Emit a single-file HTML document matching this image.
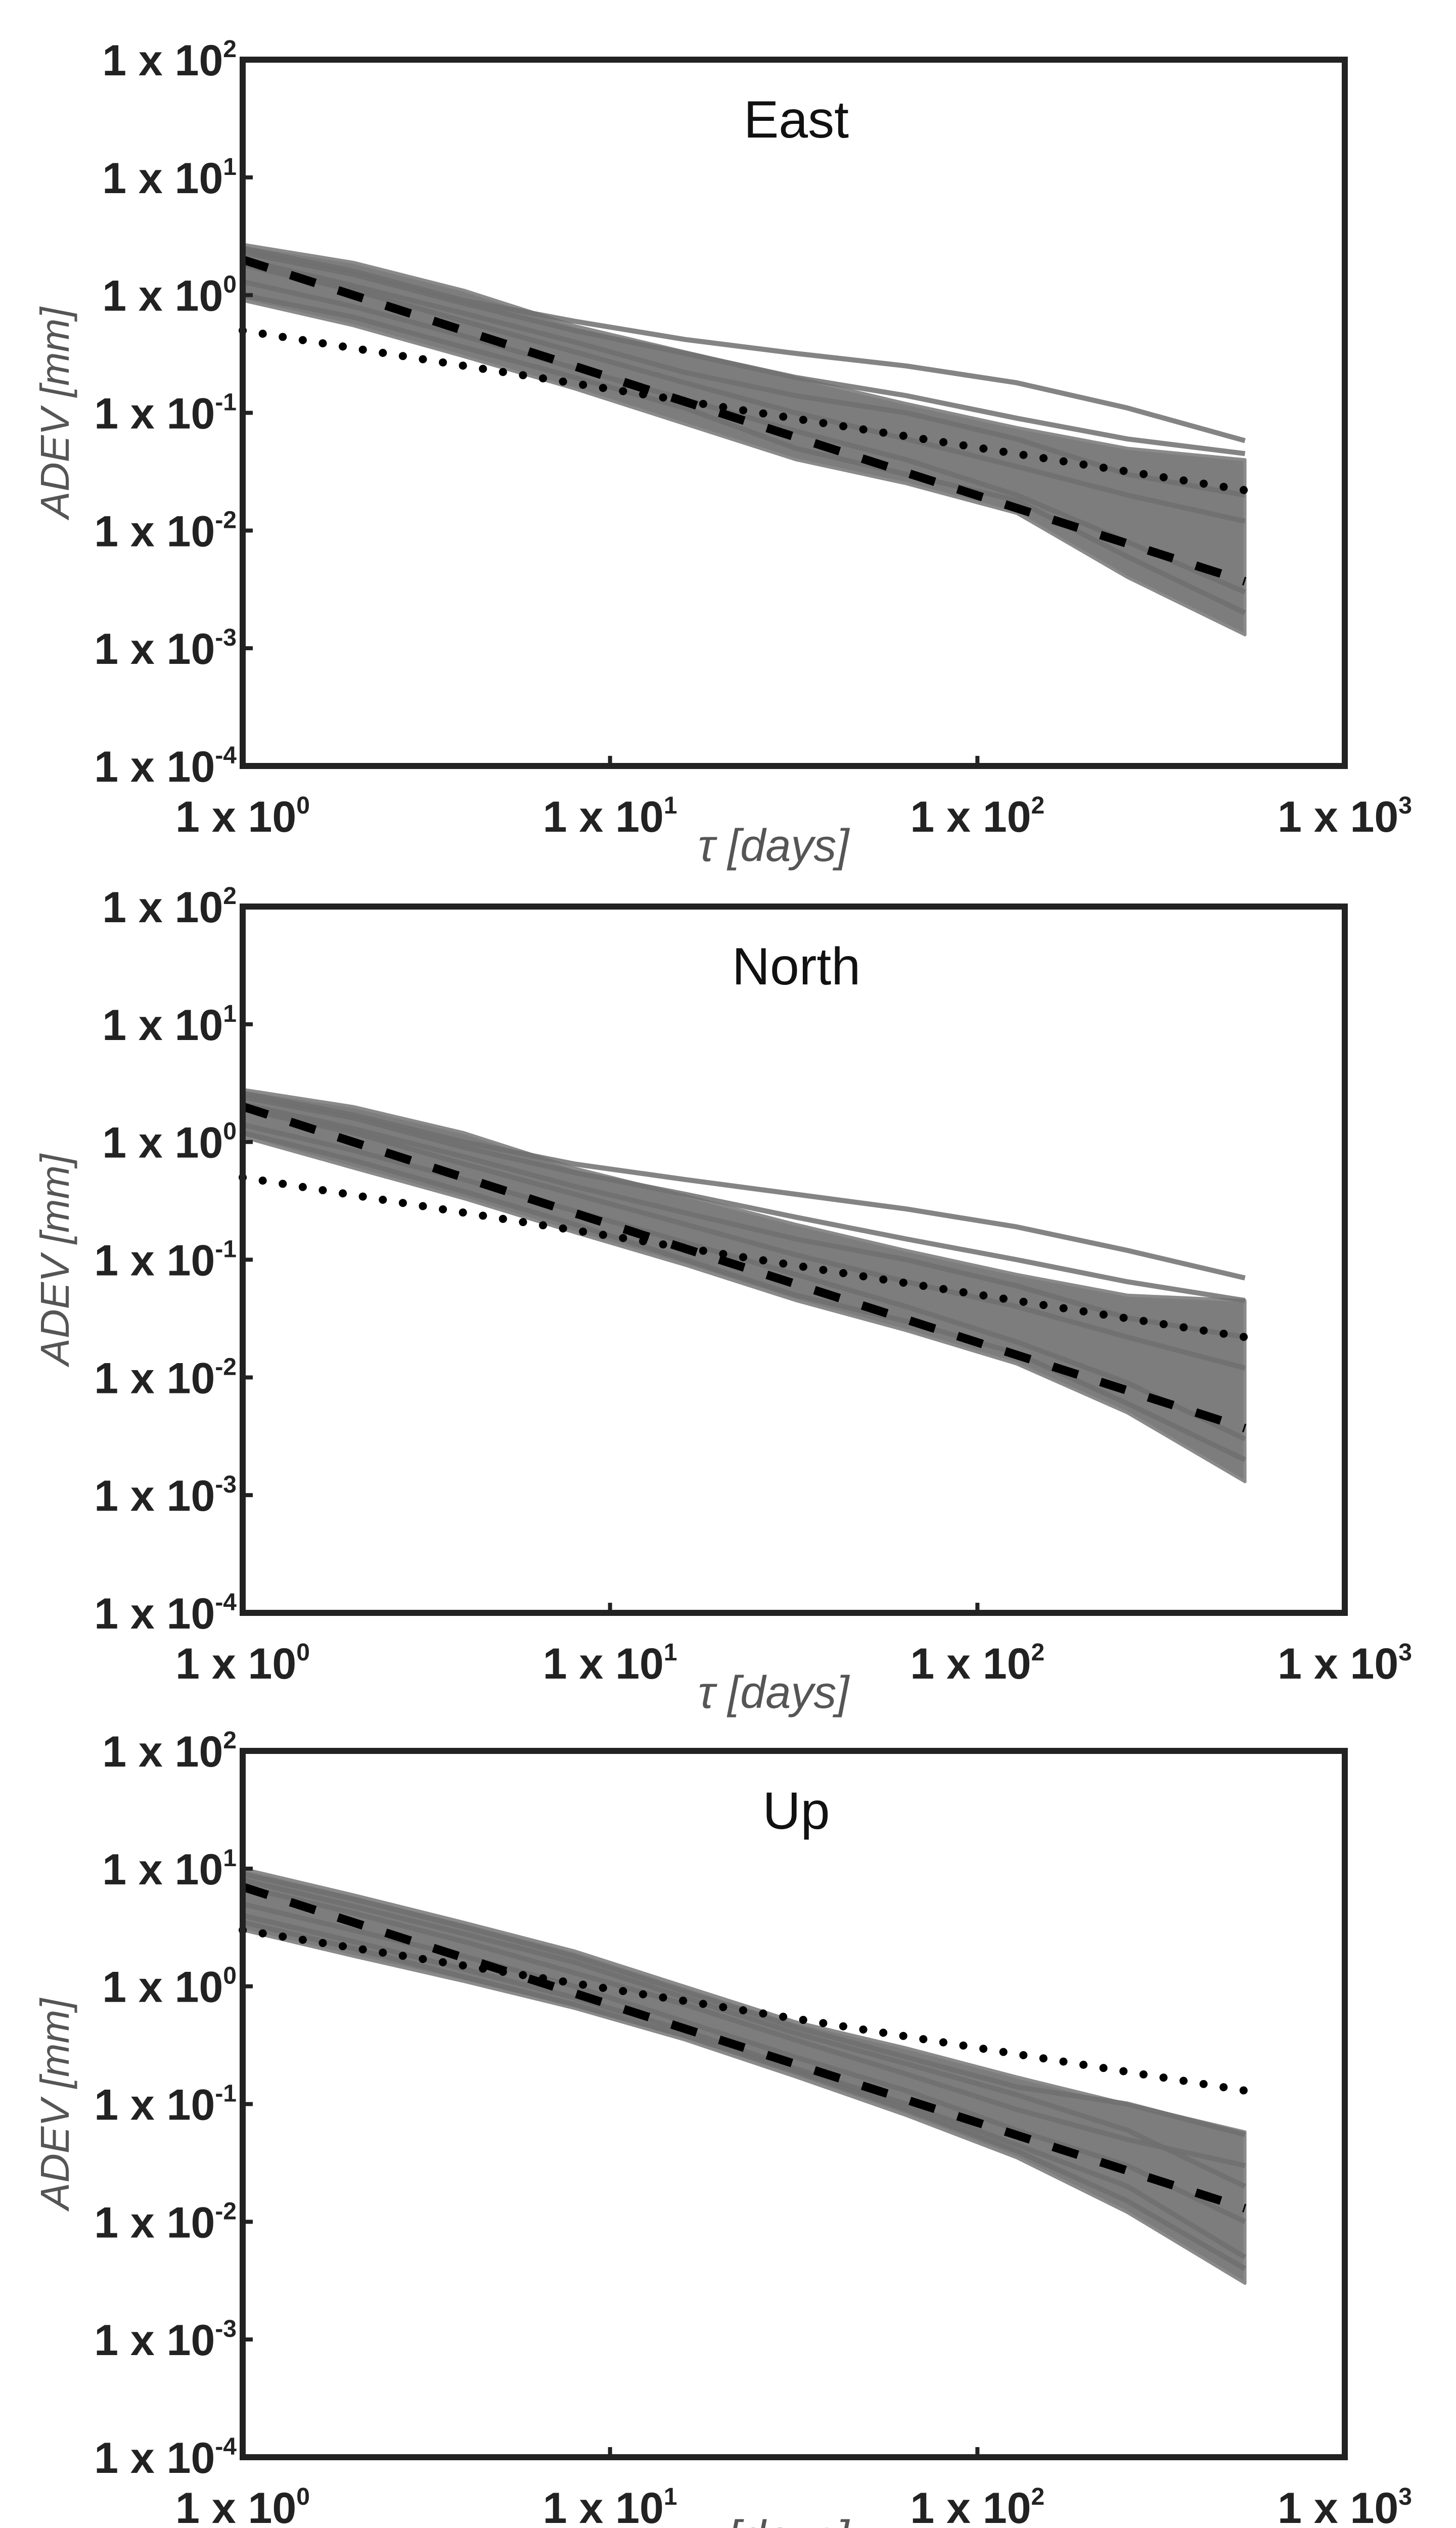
<!DOCTYPE html>
<html><head><meta charset="utf-8"><style>
html,body{margin:0;padding:0;background:#fff;width:2880px;height:5144px;overflow:hidden;}
svg{display:block;}
.tk{font-family:"Liberation Sans",Arial,sans-serif;font-weight:bold;fill:#222;}
.ttl{font-family:"Liberation Sans",Arial,sans-serif;fill:#111;}
.ax{font-family:"Liberation Sans",Arial,sans-serif;font-style:italic;fill:#555;}
</style></head><body>
<svg id="fig" width="2880" height="5144" viewBox="0 0 2880 5144" xmlns="http://www.w3.org/2000/svg"></svg>
<script>
// ---- data ----
const tauPts = [1,2,4,8,16,32,64,128,256,535];
const fitTau = [1,535];
const panelNames = ["East","North","Up"];
const xTickExps = [0,1,2,3];
const yTickExps = [2,1,0,-1,-2,-3,-4];

const eastUpper = [2.7,1.9,1.1,0.55,0.33,0.2,0.12,0.075,0.05,0.04];
const eastLower = [0.9,0.55,0.3,0.16,0.08,0.04,0.025,0.014,0.004,0.0013];
const eastLine1 = [2.5,1.6,0.9,0.6,0.42,0.32,0.25,0.18,0.11,0.058];
const eastLine2 = [2.3,1.5,0.85,0.5,0.32,0.2,0.14,0.09,0.06,0.045];
const eastLine3 = [1.8,1.1,0.6,0.33,0.18,0.1,0.06,0.035,0.02,0.012];
const eastLine4 = [1.3,0.8,0.45,0.24,0.13,0.07,0.04,0.02,0.008,0.003];
const eastLine5 = [2.0,1.2,0.7,0.4,0.22,0.14,0.1,0.06,0.03,0.02];
const eastLine6 = [1.0,0.65,0.36,0.2,0.11,0.05,0.03,0.018,0.006,0.002];
const eastDashed = [2.0,0.0037];
const eastDotted = [0.5,0.022];

const northUpper = [2.8,2.0,1.2,0.6,0.35,0.2,0.12,0.075,0.05,0.045];
const northLower = [1.1,0.6,0.33,0.17,0.09,0.045,0.025,0.013,0.005,0.0013];
const northLine1 = [2.6,1.7,1.0,0.65,0.48,0.36,0.27,0.19,0.12,0.07];
const northLine2 = [2.4,1.6,0.9,0.55,0.36,0.23,0.15,0.1,0.065,0.045];
const northLine3 = [1.9,1.2,0.65,0.36,0.2,0.11,0.065,0.04,0.022,0.012];
const northLine4 = [1.4,0.85,0.48,0.26,0.14,0.075,0.04,0.02,0.009,0.003];
const northLine5 = [2.1,1.3,0.75,0.42,0.25,0.15,0.1,0.06,0.032,0.022];
const northLine6 = [1.2,0.7,0.38,0.2,0.1,0.05,0.03,0.016,0.006,0.002];
const northDashed = [2.0,0.0037];
const northDotted = [0.5,0.022];

const upUpper = [10,6,3.5,2.0,1.0,0.5,0.3,0.17,0.1,0.058];
const upLower = [3,1.8,1.1,0.65,0.35,0.17,0.08,0.035,0.012,0.003];
const upLine1 = [9,5.5,3.2,1.8,0.9,0.45,0.25,0.14,0.1,0.055];
const upLine2 = [7,4.2,2.4,1.3,0.7,0.35,0.18,0.09,0.05,0.03];
const upLine3 = [5,3,1.8,1.0,0.5,0.25,0.13,0.06,0.03,0.01];
const upLine4 = [4,2.4,1.4,0.8,0.42,0.2,0.1,0.045,0.02,0.005];
const upLine5 = [8,4.8,2.8,1.6,0.8,0.4,0.22,0.12,0.06,0.02];
const upLine6 = [3.5,2.1,1.2,0.7,0.38,0.19,0.09,0.04,0.015,0.004];
const upDashed = [7.0,0.013];
const upDotted = [3.0,0.13];

const panelData = [
  {up:eastUpper, lo:eastLower, lines:[eastLine1,eastLine2,eastLine3,eastLine4,eastLine5,eastLine6], dash:eastDashed, dot:eastDotted},
  {up:northUpper, lo:northLower, lines:[northLine1,northLine2,northLine3,northLine4,northLine5,northLine6], dash:northDashed, dot:northDotted},
  {up:upUpper, lo:upLower, lines:[upLine1,upLine2,upLine3,upLine4,upLine5,upLine6], dash:upDashed, dot:upDotted}
];

// ---- layout ----
const NS = "http://www.w3.org/2000/svg";
const svg = document.getElementById('fig');
const L = 480, R = 2660;
const tops = [118,1793,3463];
const H = 1397;
function mk(tag, attrs, parent){ const e=document.createElementNS(NS,tag); for(const k in attrs) e.setAttribute(k,attrs[k]); (parent||svg).appendChild(e); return e; }
function xs(t){ return L + (Math.log10(t)-0)/3*(R-L); }

panelData.forEach((pd, i) => {
  const T = tops[i], B = T + H;
  const ys = v => T + (2 - Math.log10(v))/6*H;
  const g = mk('g',{});
  
  

  let d = tauPts.map((t,k)=>(k?'L':'M')+xs(t).toFixed(1)+' '+ys(pd.up[k]).toFixed(1)).join(' ');
  for(let k=tauPts.length-1;k>=0;k--) d += ' L'+xs(tauPts[k]).toFixed(1)+' '+ys(pd.lo[k]).toFixed(1);
  const band = mk('path',{d:d+' Z', fill:'#7d7d7d', stroke:'#8a8a8a','stroke-width':6,'stroke-linejoin':'round'},g);
  
  

  pd.lines.forEach((ln, j) => {
    const p = mk('path',{d:tauPts.map((t,k)=>(k?'L':'M')+xs(t).toFixed(1)+' '+ys(ln[k]).toFixed(1)).join(' '), fill:'none', stroke:'#6e6e6e','stroke-width':10,'stroke-opacity':0.85,'stroke-linejoin':'round'},g);
    
    
  });

  const dl = mk('line',{x1:xs(fitTau[0]),y1:ys(pd.dash[0]),x2:xs(fitTau[1]),y2:ys(pd.dash[1]),stroke:'#000','stroke-width':17,'stroke-dasharray':'52 47'},g);
  
  
  const ol = mk('line',{x1:xs(fitTau[0]),y1:ys(pd.dot[0]),x2:xs(fitTau[1]),y2:ys(pd.dot[1]),stroke:'#000','stroke-width':16,'stroke-linecap':'round','stroke-dasharray':'0.1 40'},g);
  
  

  const fr = mk('rect',{x:L,y:T,width:R-L,height:H,fill:'none',stroke:'#222','stroke-width':12},g);
  
  

  yTickExps.forEach(e => {
    const y = T + (2-e)/6*H;
    mk('line',{x1:L,y1:y,x2:L+20,y2:y,stroke:'#222','stroke-width':8},g);
    const tx = mk('text',{x:L-12,y:y+31,'text-anchor':'end','class':'tk','font-size':86},g);
    
    
    tx.textContent = '1 x 10';
    const sp = mk('tspan',{'font-size':48,dy:-36},tx);
    sp.textContent = String(e);
  });
  xTickExps.forEach(e => {
    const x = L + e/3*(R-L);
    mk('line',{x1:x,y1:B,x2:x,y2:B-20,stroke:'#222','stroke-width':8},g);
    const tx = mk('text',{x:x,y:B+130,'text-anchor':'middle','class':'tk','font-size':86},g);
    
    
    tx.textContent = '1 x 10';
    const sp = mk('tspan',{'font-size':48,dy:-36},tx);
    sp.textContent = String(e);
  });

  const title = mk('text',{x:1575,y:T+154,'text-anchor':'middle','class':'ttl','font-size':104},g);
  
  
  title.textContent = panelNames[i];

  const yt = mk('text',{x:0,y:0,'text-anchor':'middle','class':'ax','font-size':80,transform:'translate(136,'+(T+H/2)+') rotate(-90)'},g);
  
  
  yt.textContent = 'ADEV [mm]';

  const xt = mk('text',{x:1530,y:B+188,'text-anchor':'middle','class':'ax','font-size':90},g);
  
  
  xt.textContent = 'τ [days]';
});
</script>
</body></html>
